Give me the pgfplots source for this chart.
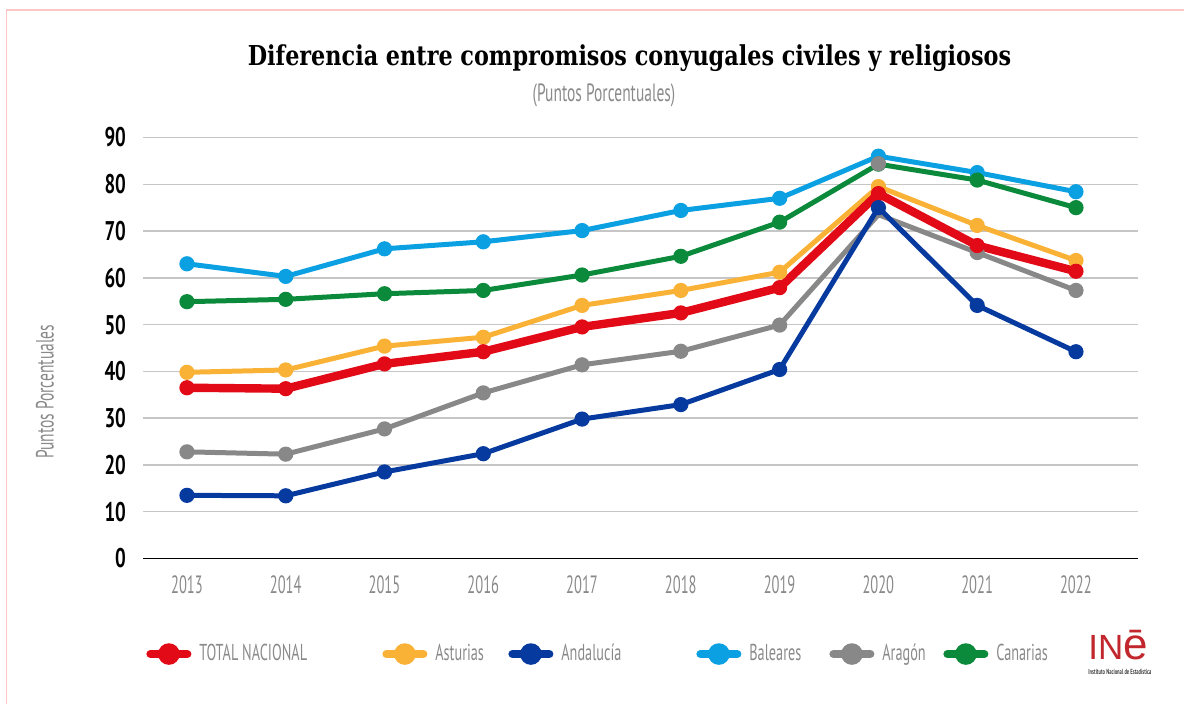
\documentclass[border=0pt]{standalone}
\usepackage{pgfplots}
\usepackage{pgfplotstable}
\pgfplotsset{compat=1.18}
\usepackage{fontspec}
\setmainfont{PT Sans}
\newfontfamily\cond[FakeStretch=0.62]{PT Sans}
\newfontfamily\condx[FakeStretch=0.58]{PT Sans}
\newfontfamily\condy[FakeStretch=0.7]{PT Sans}
\newfontfamily\titlefont[FakeStretch=0.815]{DejaVu Serif}
\newfontfamily\logofont{Liberation Sans}

\definecolor{cTotal}{HTML}{E20A17}
\definecolor{cAst}{HTML}{FAB236}
\definecolor{cAnd}{HTML}{073A9F}
\definecolor{cBal}{HTML}{0BA0E2}
\definecolor{cArg}{HTML}{888888}
\definecolor{cCan}{HTML}{0A8A3A}
\definecolor{gridgray}{HTML}{C6C6C6}
\definecolor{txtgray}{HTML}{8A8A8A}
\definecolor{frame}{HTML}{FFC6C6}
\definecolor{ine}{HTML}{C1272D}

% puntos porcentuales por año
\pgfplotstableread{
year total asturias andalucia baleares aragon canarias
2013 36.5 39.8 13.5 63.0 22.8 54.9
2014 36.3 40.3 13.4 60.3 22.3 55.4
2015 41.6 45.4 18.5 66.2 27.7 56.6
2016 44.2 47.3 22.4 67.7 35.4 57.3
2017 49.5 54.1 29.8 70.1 41.4 60.6
2018 52.5 57.3 32.9 74.4 44.3 64.6
2019 57.9 61.2 40.4 77.0 49.9 71.9
2020 78.0 79.5 75.0 86.0 73.5 84.3
2021 66.9 71.2 54.1 82.5 65.4 80.9
2022 61.4 63.7 44.2 78.4 57.3 75.0
}\datos

\pgfplotsset{
  ser/.style={color=#1, line width=2.5pt, mark=*, mark size=3.4pt,
    mark options={solid, fill=#1, line width=0.8pt}},
}

\begin{document}
\begin{tikzpicture}
\useasboundingbox (0,0) rectangle (592pt,352pt);
\draw[frame, line width=0.75pt] (3.25pt,0pt) -- (3.25pt,347pt) -- (592pt,347pt);

\node[font=\titlefont\bfseries\fontsize{13.7}{16}\selectfont] at (314.75pt,323pt)
  {Diferencia entre compromisos conyugales civiles y religiosos};
\node[font=\cond\fontsize{12.5}{14}\selectfont, text=txtgray] at (302pt,304.5pt)
  {(Puntos Porcentuales)};
\node[font=\cond\fontsize{12.5}{14}\selectfont, text=txtgray, rotate=90] at (22.5pt,156pt)
  {Puntos Porcentuales};

\begin{axis}[
  at={(71.5pt,72.75pt)}, anchor=south west,
  scale only axis, width=497.5pt, height=210.5pt,
  xmin=2012.555, xmax=2022.628, ymin=0, ymax=90,
  xtick={2013,2014,...,2022}, ytick={0,10,...,90},
  /pgf/number format/set thousands separator={},
  /pgf/number format/assume math mode=true,
  ymajorgrids, grid style={gridgray, line width=0.75pt},
  axis x line*=bottom, axis y line*=left,
  x axis line style={-, black, line width=0.6pt},
  y axis line style={draw=none},
  major tick length=0pt,
  yticklabel style={font=\condy\bfseries\fontsize{13.5}{15}\selectfont, text=black, xshift=-5pt},
  xticklabel style={font=\condx\fontsize{12.5}{14}\selectfont, text=txtgray, yshift=-5pt},
  clip=false,
  legend columns=6,
  legend cell align=left,
  legend style={at={(0.003,-0.227)}, anchor=west, draw=none, fill=none,
    inner sep=0pt, column sep=0pt, nodes={inner sep=0pt},
    font=\cond\fontsize{11.5}{13}\selectfont, text=txtgray},
  legend image code/.code={
    \draw[#1, line width=4pt, line cap=round, mark=none] (0pt,0pt) -- (18.5pt,0pt);
    \draw[#1, mark size=5pt] plot coordinates {(9.25pt,0pt)};
  },
]
\addlegendimage{ser=cTotal}
\addlegendentry{\hspace{4pt}\makebox[91.5pt][l]{TOTAL NACIONAL}}
\addlegendimage{ser=cAst}
\addlegendentry{\hspace{4pt}\makebox[36.5pt][l]{Asturias}}
\addlegendimage{ser=cAnd}
\addlegendentry{\hspace{4pt}\makebox[67.5pt][l]{Andalucía}}
\addlegendimage{ser=cBal}
\addlegendentry{\hspace{4pt}\makebox[40pt][l]{Baleares}}
\addlegendimage{ser=cArg}
\addlegendentry{\hspace{4pt}\makebox[30.5pt][l]{Aragón}}
\addlegendimage{ser=cCan}
\addlegendentry{\hspace{4pt}Canarias}

\addplot[ser=cBal, forget plot] table[x=year, y=baleares] {\datos};
\addplot[ser=cCan, forget plot] table[x=year, y=canarias] {\datos};
\addplot[ser=cArg, forget plot, mark indices={1,2,3,4,5,6,7,9,10}] table[x=year, y=aragon] {\datos};
\addplot[ser=cAst, forget plot] table[x=year, y=asturias] {\datos};
\addplot[ser=cTotal, line width=4.2pt, forget plot] table[x=year, y=total] {\datos};
\addplot[ser=cAnd, forget plot] table[x=year, y=andalucia] {\datos};
% marcador gris que tapa el punto de 2020
\addplot[ser=cArg, only marks, forget plot] coordinates {(2020,84.4)};
\end{axis}

\node[anchor=base west, font=\logofont, text=ine, inner sep=0pt]
  at (544pt,22pt) {{\fontsize{17.5}{17}\selectfont IN}{\fontsize{22}{22}\selectfont\=e}};
\node[anchor=north west, font=\cond\bfseries\fontsize{3.7}{4}\selectfont, text=black!75, inner sep=0pt]
  at (544pt,17.6pt) {Instituto Nacional de Estadística};
\end{tikzpicture}
\end{document}
